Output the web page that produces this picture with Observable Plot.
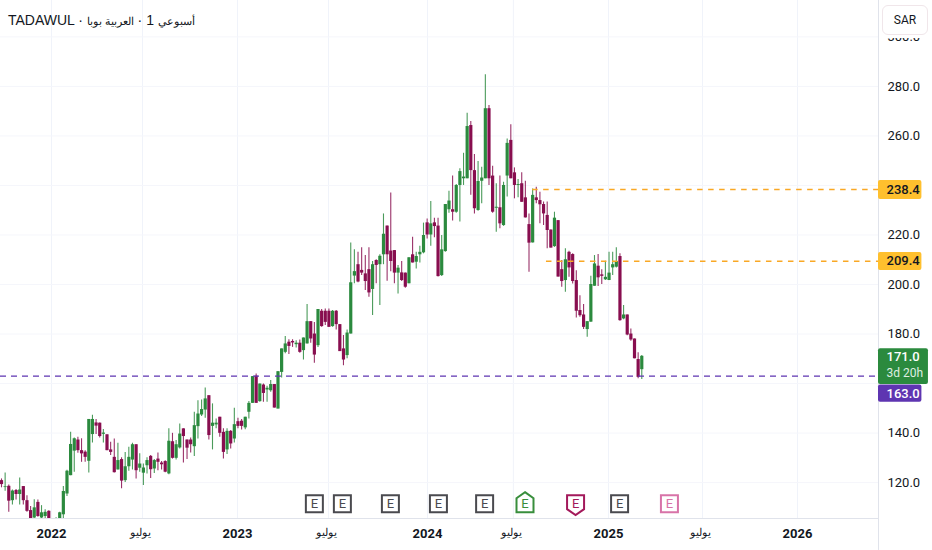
<!DOCTYPE html>
<html>
<head>
<meta charset="utf-8">
<script src="https://cdn.jsdelivr.net/npm/d3@7"></script>
<script src="https://cdn.jsdelivr.net/npm/@observablehq/plot@0.6"></script>
<style>
  body { margin: 0; background: #fff; position: relative; width: 932px; height: 550px; overflow: hidden; }
  #chart svg { display: block; }
  #title { position: absolute; left: 8px; top: 12px; font: 14px "Liberation Sans", sans-serif; color: #131722; white-space: nowrap; direction: ltr; }
  #title span { font-size: 10.5px; }
  #currency { position: absolute; z-index: 2; left: 882px; top: 5px; width: 44px; height: 28px; line-height: 28px; text-align: center; background: #fff;
    border: 1px solid #f0e6ea; border-radius: 6px; box-shadow: 0 3px 0 #fff; font: 12px/28px Roboto, sans-serif; color: #131722; }
</style>
</head>
<body>
<div id="chart"></div>
<div id="title">TADAWUL · <span>أسبوعي</span> 1 · <span>العربية بوبا</span></div>
<div id="currency">SAR</div>
<script>
// weekly candles
const opens = [120.8,118,118.5,112.7,116.8,115.2,118.4,112.7,108.7,105.7,112,105.7,106.3,108.4,104,103.5,105,107,115.4,122.8,132.7,137.2,132.9,132.3,128.6,139.4,144.1,144,139.5,139.3,133.2,130.2,125.1,
  129.3,120.8,126.4,129.1,135.3,125.8,123.8,126.8,130.6,125.5,129.5,127.9,128.5,123.5,136.5,129.8,134,141.7,137.2,137.2,134.5,142.6,147.3,149.3,155.1,142.7,143.3,146.4,140.3,133.2,140.7,137.6,144.6,144.8,142.1,148.4,
  152,163,152.7,159.4,157.4,157.1,159.6,149.7,164.5,172.6,176.7,177,175.7,176.3,173.3,176,185,180,175.3,189.2,189.2,189.2,183,189.2,183.8,174,171.3,180,
  203.4,208,205.7,204.3,206,198,209.7,208,212,223.6,213.5,213.7,204.6,204.7,204.6,200.3,212,209,212,212.8,224.9,220,224.9,223.6,
  203.6,213.3,230.2,230.2,229.2,240,242.7,242.7,264.2,246,229.9,241.7,242.7,271,243.8,230.8,231,223.8,243.8,258.2,245.1,240,240.7,235,224.2,216.8,235,233.9,232.3,227.9,222,215.3,225.8,
  206,201.6,213,212.1,201.6,189.5,187.7,181.8,184.8,199.3,207.4,203.9,201.9,201.6,206.7,207,211.3,186.1,187.7,180,178,169.7,165.6];
const highs = [121.5,123.9,119,117,117.2,121.9,118.4,114.7,110.3,113.1,113,110.7,109,108.6,105.3,105.8,108,118.4,125,140.3,138,138.3,137.7,132.9,145.5,147.2,145.5,144.1,141.4,139.3,136.3,137.6,135.9,
  130,132.2,134.3,135.9,135.3,131.6,127.5,130,130.9,129.3,132,128.5,128.8,141.7,139.9,137,143.7,141.7,137.2,138,148.4,153.1,153.4,158.2,155.1,151.8,145.7,146.4,141.7,141.7,141,150,146,145.5,146.4,152.8,
  162.8,163.9,159.8,159.8,158.9,161.2,159.6,164.8,174,179,177.7,177.7,177.3,177.6,178.4,191.9,185,184.7,189.9,189.9,190.1,190.1,189.5,189.5,183.8,179.4,181.6,216.8,
  214,213,214.8,211.7,214.8,209.3,210,212,228.5,223.6,237,213.7,207.7,209.3,204.6,210.8,219.1,213,215.5,224.8,226.5,233.5,226.8,226.8,
  219.8,232.3,237.7,243.8,240.4,246.7,253,269.2,265.8,252.5,249.7,247.4,284.7,272.3,247.8,240.7,243.8,241.3,258.8,264.5,247.1,242.4,245.1,241.7,228.5,238.6,239.3,237.3,233.3,233.3,222,229.2,225.8,
  209.7,214.4,213.4,212.4,205.6,195.5,191.9,185,203.3,211.7,212.1,206,209.4,213,213,214.8,212.4,191.5,187.7,182,178,172.4,171.3];
const lows = [117.9,116.5,108,111,113,111,111,108,105,105,106,105.3,105.5,104,102,103,104,105,114.4,122.8,124.2,131.9,128.2,128.2,123.9,136,139.4,138,136,132.9,130.9,123.9,125.1,
  117.5,120,124.6,125.1,121.5,124.2,118.8,123.5,121.7,123.7,124.8,125.1,124,123.2,129.5,129.1,133.6,127.9,129.3,132,130.5,137.6,146.7,146,137.2,133.2,141.7,138.3,129.5,131.3,133.6,136,141.7,141.2,141.3,145.7,
  152,152,152.4,152.4,152.4,156.5,150.1,149.7,162.2,172,171.7,174.6,174.4,172.2,169.5,176,176.3,168.2,174.6,182.7,183.4,182.7,182.7,181.6,172.9,167.2,170,180,
  200.3,200.7,203.6,197.6,194.9,187.5,200.3,191.5,208,201.3,205.2,200.3,196.2,201.2,198.5,200.3,208.7,206.3,208.7,212.4,218.4,215.5,218.9,203,
  203.2,213,228.8,225.6,228.8,225.2,240,242.7,236,228.5,229.6,232.6,242.7,240,228.8,221.1,222.5,223.5,235.3,242.7,234.6,235,233.2,226.9,205,216.8,232.6,224.5,223.8,214.4,214.7,215,203,
  198.9,196.9,202.9,200.2,186.5,186.8,181.8,178.7,184.8,199.3,199.2,200,201.6,201.6,203.6,206.7,185.2,185.8,179.3,177.1,170,161.9,161.6];
const closes = [119.2,118.3,112.5,116.6,115.2,117,112.7,108.4,105.3,109.8,106.3,107.8,108,105,103,105.2,107.8,116.4,124.6,135.4,137.7,132.9,131.6,130.2,145.5,145.5,142.8,138.6,140,132.9,132.2,124,128.9,
  120.6,126.4,130.2,135.3,124.8,127.5,125.9,128.9,125.2,128.9,128.2,127.2,124.2,136.7,129.8,135.3,139.6,138.6,133.9,135.3,143,147.7,149.5,153.8,139,144,144,139.9,132.2,140.7,135.6,143.4,142.7,142.7,146.4,152,
  162.8,152,159.8,156,158.1,159.6,150.1,164.8,174,176,175,176.4,176.3,172.6,178.4,185,178,171.5,189.9,183,184.7,182.7,189.2,183.8,172.9,169.5,180.4,200.7,
  205.2,201,204.6,201.2,196.6,208,207.7,211.4,220.3,212,209.3,204.6,206.6,201.6,198.9,210.8,208.7,211.3,213,219.8,220,224.5,223.4,203.2,
  214,232.3,233.7,229.2,240,245.6,243.4,263.8,246,230.6,241.6,243,271,242.7,229.2,231.2,224.5,240,257,242.7,240,240.4,233.2,226.9,216.7,236,233.9,232.2,228.5,221.8,214.7,226.8,203,
  201.2,210,206.7,201.2,189.2,187.4,182.7,185,200,208.3,202.7,203.3,202.9,204.6,208,209.3,185.4,187.7,179.6,177.6,170,162.5,171];

const gridPrices = [120,140,160,180,200,220,240,260,280,300];
const priceTicks = [120,140,180,200,220,260,280,300];
const yearTicks = [13.74,64.87,117.1,166.85,218.8];
const yearLabels = ['2022','2023','2024','2025','2026'];
const julyTicks = [38.76,89.9,140.7,192.7];
const julyLabel = 'يوليو';

// price lines and their tags
const resistance = [238.4,209.4];
const resistanceFrom = [146,149.8];
const lastPrice = 163.0;
const closeLabel = '171.0';
const countdownLabel = '3d 20h';

// earnings flags: bar position and kind
const earningsBars = [86,93.7,106.9,120.1,132.8,143.9,157.8,169.9,183.6];
const earningsKinds = ['none','none','none','none','none','beat','miss','none','next'];

const candles = opens.map((o,i) => ({bar:i, open:o, high:highs[i], low:lows[i], close:closes[i]}));
const earnings = earningsBars.map((b,i) => ({bar:b, kind:earningsKinds[i]}));

const upColor = '#2b8a3e', downColor = '#880e4f';
const yBottom = 105.5, yTop = 314.7;
const xRight = 241.07, tagRight = 253, closeTagRight = 254.8;

// square flag, and the pointed ones for a beat or a miss
const flagBox = { draw(c, size) { const r = Math.sqrt(size/Math.PI); c.rect(-r,-r,2*r,2*r) } };
const flagUp = { draw(c, size) { const r = Math.sqrt(size/Math.PI);
  c.moveTo(0,-r-3); c.lineTo(r,-r+3); c.lineTo(r,r); c.lineTo(-r,r); c.lineTo(-r,-r+3); c.closePath() } };
const flagDown = { draw(c, size) { const r = Math.sqrt(size/Math.PI);
  c.moveTo(-r,-r); c.lineTo(r,-r); c.lineTo(r,r-3); c.lineTo(0,r+3); c.lineTo(-r,r-3); c.closePath() } };

const flagMark = (kind, symbol, color) => [
  Plot.dot(earnings.filter(d => d.kind == kind), {x:'bar', y:()=>111.5, r:8.5, symbol, fill:'#fff', stroke:color, strokeWidth:2}),
  Plot.text(earnings.filter(d => d.kind == kind), {x:'bar', y:()=>111.5, text:()=>'E', fill:color, fontSize:13, fontFamily:'Roboto'})
];

const tag = (y1, y2, right, fill) => Plot.rect([0], {x1:()=>xRight, x2:()=>right, y1:()=>y1, y2:()=>y2, fill, rx:2});
const tagText = (y, text, fill, weight, size) => Plot.text([text], {x:()=>xRight, y:()=>y, text:d=>d, dx:8, textAnchor:'start', fill, fontSize:size||13, fontWeight:weight||500, fontFamily:'Roboto'});

let chart = Plot.plot({
  width: 932,
  height: 550,
  marginLeft: 0,
  marginRight: 54,
  marginTop: 0,
  marginBottom: 32,
  style: { fontFamily: 'Roboto', fontSize: '13px', color: '#131722', background: '#fff' },
  x: { type: 'linear', domain: [-0.275, xRight], label: null },
  y: { domain: [yBottom, yTop], label: null },
  marks: [
    // grid
    Plot.ruleX([...yearTicks, ...julyTicks], {stroke:'#f0f3fa', strokeWidth:1}),
    Plot.ruleY(gridPrices, {stroke:'#f5f6fb', strokeWidth:1}),

    // candles
    Plot.ruleX(candles, {x:'bar', y1:'low', y2:'high', stroke:d => d.close >= d.open ? upColor : downColor, strokeWidth:1.1, strokeOpacity:0.85, clip:true}),
    Plot.ruleX(candles, {x:'bar', y1:'open', y2:'close', stroke:d => d.close >= d.open ? upColor : downColor, strokeWidth:3.2, clip:true}),

    // price lines
    Plot.ruleY(resistance, {x1:(d,i) => resistanceFrom[i], x2:()=>xRight, stroke:'#f9a825', strokeWidth:1.4, strokeDasharray:'5.5 5.5'}),
    Plot.ruleY([lastPrice], {stroke:'#5e35b1', strokeWidth:1.4, strokeDasharray:'6 5'}),

    // earnings
    ...flagMark('none', flagBox, '#4a4a4f'),
    ...flagMark('beat', flagUp, '#388e3c'),
    ...flagMark('miss', flagDown, '#a3195b'),
    ...flagMark('next', flagBox, '#d873a8'),

    // frame of the two scales
    Plot.ruleX([xRight], {y1:()=>92.6, y2:()=>yTop, stroke:'#e0e3eb', strokeWidth:1}),
    Plot.ruleY([yBottom], {x1:()=>-0.275, x2:()=>xRight, stroke:'#e0e3eb', strokeWidth:1}),

    // axes
    Plot.axisY(priceTicks, {anchor:'right', tickSize:0, tickPadding:9, tickFormat:d => d.toFixed(1), label:null, fontSize:13, fill:'#131722'}),
    Plot.axisX(yearTicks, {tickSize:0, tickPadding:10, tickFormat:d => yearLabels[yearTicks.indexOf(d)], label:null, fontSize:13, fontWeight:'bold', fill:'#131722'}),
    Plot.axisX(julyTicks, {tickSize:0, tickPadding:10, dx:-2, tickFormat:() => julyLabel, label:null, fontSize:11, fill:'#131722'}),

    // tags on the price scale
    tag(242, 234.3, tagRight, '#ffc02e'),
    tagText(238.4, '238.4', '#131722'),
    tag(212.9, 205.7, tagRight, '#ffc02e'),
    tagText(209.4, '209.4', '#131722'),
    tag(174.1, 159.6, closeTagRight, upColor),
    tagText(170.9, closeLabel, '#fff'),
    tagText(164, countdownLabel, '#dfeee2', 400, 12),
    tag(159.4, 152.4, tagRight, '#5e35b1'),
    tagText(155.9, lastPrice.toFixed(1), '#fff')
  ]
})

d3.select('#chart').append(() => chart)
</script>
</body>
</html>
